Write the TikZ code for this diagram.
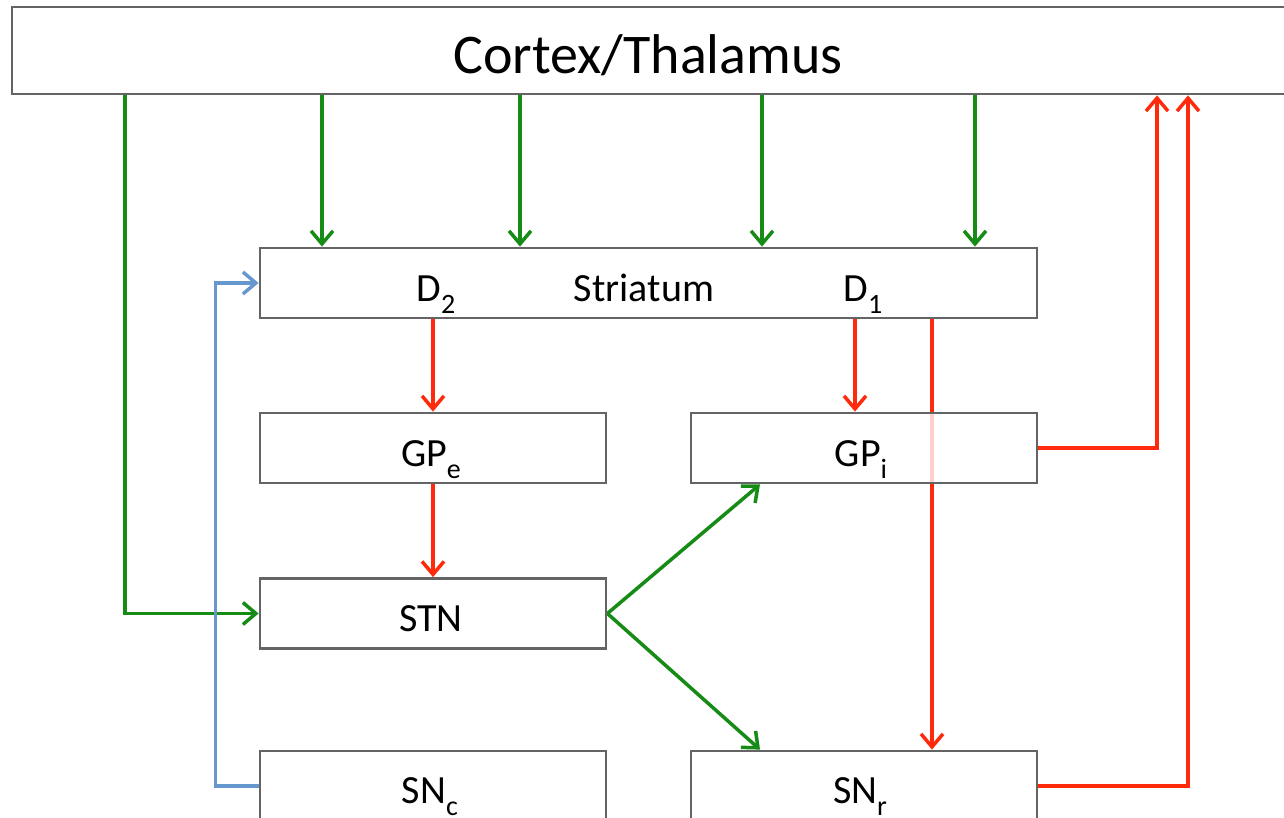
\documentclass[tikz,border=0pt]{standalone}
\usepackage{fontspec}
\setmainfont{Carlito}
\usetikzlibrary{arrows.meta}

\definecolor{excite}{RGB}{22,140,22}
\definecolor{inhibit}{RGB}{255,42,12}
\definecolor{dopa}{RGB}{102,152,206}
\definecolor{boxline}{RGB}{100,100,100}

\pgfdeclarelayer{paper}
\pgfdeclarelayer{links}
\pgfsetlayers{paper,links,main}

% lowered, smaller index in the style of the labels
\newcommand\lowidx[1]{\raisebox{-0.3em}{\fontsize{28}{28}\selectfont #1}}

\begin{document}
\begin{tikzpicture}[x=1pt,y=-1pt,
  region/.style={draw=boxline, line width=2.8pt, fill=white, rectangle, inner sep=0pt},
  smallbox/.style={region, minimum width=346pt, minimum height=70pt},
  lbl/.style={anchor=base, inner sep=0pt, font=\fontsize{40}{40}\selectfont},
  link/.style={line width=3.5pt, -{Straight Barb[length=13pt,width=22pt]}},
  exc/.style={link, excite},
  inh/.style={link, inhibit},
  dop/.style={link, dopa}
]
\clip (0,0) rectangle (1284,818);
\useasboundingbox (0,0) rectangle (1284,818);
\begin{pgfonlayer}{paper}
  \fill[white] (0,0) rectangle (1284,818);
\end{pgfonlayer}

% boxes
\node[region, minimum width=1290pt, minimum height=87pt] (top) at (657,50.5) {};
\node[region, minimum width=777pt, minimum height=70pt] (str) at (648.5,283) {};
\node[smallbox] (gpe) at (433,448) {};
\node[smallbox, fill opacity=0.78] (gpi) at (864,448) {};
\node[smallbox] (stn) at (433,613.5) {};
\node[smallbox] (snc) at (433,786) {};
\node[smallbox] (snr) at (864,786) {};

% labels
\node[lbl, font=\fontsize{56}{56}\selectfont] (ttop) at (648,74) {Cortex/Thalamus};
\node[lbl] (tstr) at (644,301) {Striatum};
\node[lbl] (td2) at (436,301) {D\lowidx{2}};
\node[lbl] (td1) at (863,301) {D\lowidx{1}};
\node[lbl] (tgpe) at (431,466) {GP\lowidx{e}};
\node[lbl] (tgpi) at (861,466) {GP\lowidx{i}};
\node[lbl] (tstn) at (431,631) {STN};
\node[lbl] (tsnc) at (430,803) {SN\lowidx{c}};
\node[lbl] (tsnr) at (860,803) {SN\lowidx{r}};

\begin{pgfonlayer}{links}
  % cortical input
  \draw[exc] (top.south -| 322,0) -- (str.north -| 322,0);
  \draw[exc] (top.south -| 520,0) -- (str.north -| 520,0);
  \draw[exc] (top.south -| 762,0) -- (str.north -| 762,0);
  \draw[exc] (top.south -| 975,0) -- (str.north -| 975,0);
  \draw[exc] (top.south -| 125,0) |- (stn.west);
  % indirect pathway
  \draw[inh] (str.south -| gpe.north) -- (gpe.north);
  \draw[inh] (gpe.south) -- (stn.north);
  % direct pathway
  \draw[inh] (str.south -| 855,0) -- (gpi.north -| 855,0);
  \draw[inh] (str.south -| 932,0) -- (snr.north -| 932,0);
  % subthalamic output
  \draw[exc] (stn.east) -- (gpi.south -| 760,0);
  \draw[exc] (stn.east) -- (snr.north -| 760,0);
  % output nuclei back to thalamus
  \draw[inh] (gpi.east) -| (top.south -| 1157,0);
  \draw[inh] (snr.east) -| (top.south -| 1188,0);
  % dopaminergic input
  \draw[dop] (snc.west) -- ++(-43,0) |- (str.west);
\end{pgfonlayer}
\end{tikzpicture}
\end{document}
